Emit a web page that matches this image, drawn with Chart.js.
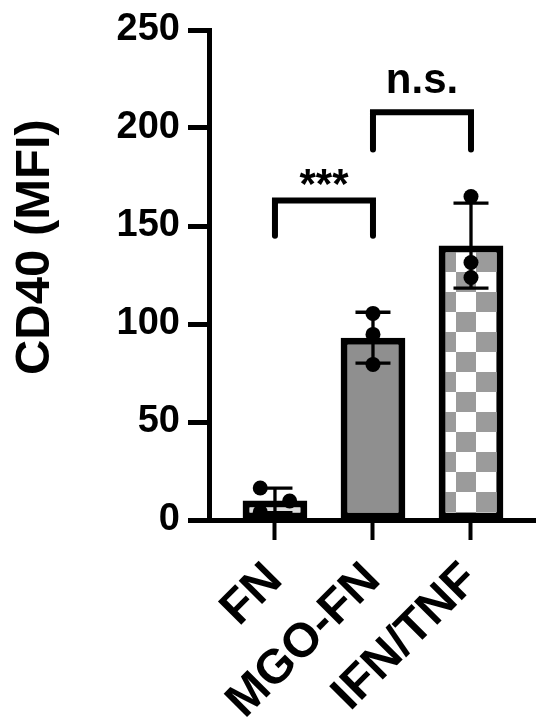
<!DOCTYPE html>
<html><head><meta charset="utf-8">
<script src="https://cdn.jsdelivr.net/npm/chart.js@4/dist/chart.umd.min.js"></script>
<style>html,body{margin:0;padding:0;background:#fff;}canvas{display:block;}</style>
</head><body>
<canvas id="c" width="550" height="728"></canvas>
<script>
// ---- data ----
const categories = ['FN', 'MGO-FN', 'IFN/TNF'];
const means = [10, 93, 140];
const sdValues = [6.3, 13, 21.7];
const replicates = [[16.3, 9.7, 4.0], [105.4, 94.7, 79.4], [165, 131.4, 123.7]];
const jitter = [[-0.15, 0.15, -0.15], [0, 0, 0], [0, 0, 0]];
const yTickValues = [0, 50, 100, 150, 200, 250];
const yTitle = 'CD40 (MFI)';
const compFrom = [0, 1];
const compTo = [1, 2];
const compTop = [163, 208];
const compLeg = [145, 189];
const compText = ['***', 'n.s.'];
const compTextY = [164.5, 218];

const FONT = '"Liberation Sans", Arial, Helvetica, sans-serif';

function checker() {
  const t = document.createElement('canvas'); t.width = 40; t.height = 40;
  const g = t.getContext('2d');
  g.fillStyle = '#ffffff'; g.fillRect(0, 0, 40, 40);
  g.fillStyle = '#9b9b9b'; g.fillRect(20, 0, 20, 20); g.fillRect(0, 20, 20, 20);
  const p = document.getElementById('c').getContext('2d').createPattern(t, 'repeat');
  p.setTransform(new DOMMatrix().translate(16, 12));
  return p;
}
const barFills = ['#dedede', '#8f8f8f', checker()];

const barData = means.map((m, i) => ({x: i, y: m}));
const dotData = [];
replicates.forEach((arr, i) => arr.forEach((v, j) => dotData.push({x: i + jitter[i][j], y: v})));

const errorBarPlugin = {
  id: 'errbars',
  afterDatasetDraw(chart, args) {
    if (args.index !== 0) return;
    const {ctx, scales: {x, y}} = chart;
    ctx.save();
    ctx.strokeStyle = '#000'; ctx.lineWidth = 3.3; ctx.lineCap = 'butt';
    means.forEach((m, i) => {
      const px = x.getPixelForValue(i);
      const top = y.getPixelForValue(m + sdValues[i]);
      const bot = y.getPixelForValue(m - sdValues[i]);
      const half = 17.5;
      ctx.beginPath();
      ctx.moveTo(px, top); ctx.lineTo(px, bot);
      ctx.moveTo(px - half, top); ctx.lineTo(px + half, top);
      ctx.moveTo(px - half, bot); ctx.lineTo(px + half, bot);
      ctx.stroke();
    });
    ctx.restore();
  }
};

const annotPlugin = {
  id: 'annot',
  afterDraw(chart) {
    const {ctx, scales: {x, y}, chartArea} = chart;
    ctx.save();
    ctx.strokeStyle = '#000'; ctx.fillStyle = '#000';
    ctx.lineWidth = 6; ctx.lineJoin = 'miter'; ctx.lineCap = 'round';
    compFrom.forEach((f, i) => {
      const x1 = x.getPixelForValue(f), x2 = x.getPixelForValue(compTo[i]);
      const yt = y.getPixelForValue(compTop[i]), yl = y.getPixelForValue(compLeg[i]);
      ctx.beginPath();
      ctx.moveTo(x1, yl); ctx.lineTo(x1, yt); ctx.lineTo(x2, yt); ctx.lineTo(x2, yl);
      ctx.stroke();
      ctx.font = 'bold 42px ' + FONT;
      ctx.textAlign = 'center'; ctx.textBaseline = 'alphabetic';
      ctx.fillText(compText[i], (x1 + x2) / 2, y.getPixelForValue(compTextY[i]));
    });
    // y axis title
    ctx.translate(35, chartArea.top + (chartArea.bottom - chartArea.top) * 0.443);
    ctx.rotate(-Math.PI / 2);
    ctx.font = 'bold 49px ' + FONT;
    ctx.textAlign = 'center'; ctx.textBaseline = 'middle';
    ctx.fillText(yTitle, 0, 0);
    ctx.restore();
  }
};

new Chart(document.getElementById('c'), {
  type: 'bar',
  data: {
    datasets: [
      {
        type: 'bar', data: barData, order: 2,
        backgroundColor: barFills, borderColor: '#000', borderWidth: 7,
        borderSkipped: false, barPercentage: 0.66, categoryPercentage: 1
      },
      {
        type: 'scatter', data: dotData, order: 1,
        pointRadius: 7.5, pointBackgroundColor: '#000', pointBorderWidth: 0,
        showLine: false
      }
    ]
  },
  options: {
    responsive: false, animation: false, devicePixelRatio: 1, events: [],
    layout: {padding: {left: 6, top: 30, right: 15, bottom: 0}},
    plugins: {legend: {display: false}, tooltip: {enabled: false}, title: {display: false}},
    scales: {
      x: {
        type: 'linear', min: -0.673, max: 2.653, offset: false,
        afterBuildTicks: s => { s.ticks = categories.map((_, i) => ({value: i})); },
        ticks: {
          callback: (v, i) => categories[i], autoSkip: false, maxRotation: 45, minRotation: 45,
          padding: 12, color: '#000', font: {family: FONT, weight: 'bold', size: 48}
        },
        grid: {display: true, drawOnChartArea: false, drawTicks: true, tickLength: 20, tickWidth: 4, tickColor: '#000', offset: false},
        border: {display: true, width: 5, color: '#000'},
        afterFit: s => { s.height = 208; s.paddingLeft = 0; s.paddingRight = 0; }
      },
      y: {
        type: 'linear', min: 0, max: 250,
        afterBuildTicks: s => { s.ticks = yTickValues.map(v => ({value: v})); },
        ticks: {padding: 8, color: '#000', font: {family: FONT, weight: 'bold', size: 38}},
        grid: {display: true, drawOnChartArea: false, drawTicks: true, tickLength: 21, tickWidth: 5, tickColor: '#000'},
        border: {display: true, width: 5, color: '#000'},
        title: {display: false},
        afterFit: s => { s.width = 203; s.paddingTop = 0; s.paddingBottom = 0; }
      }
    }
  },
  plugins: [errorBarPlugin, annotPlugin]
});
</script>
</body></html>
